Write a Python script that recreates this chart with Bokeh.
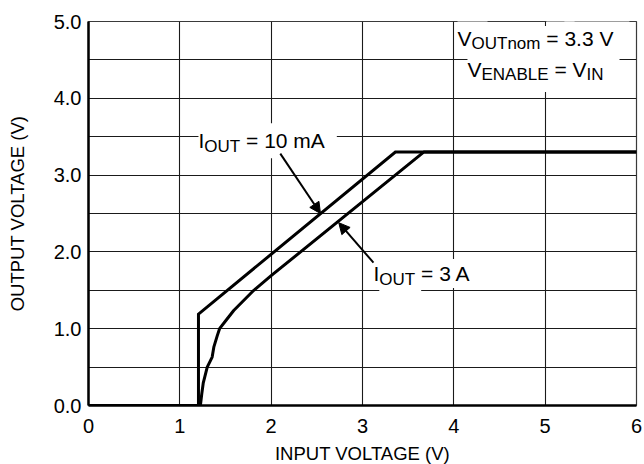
from bokeh.plotting import figure
from bokeh.models import Range1d, FixedTicker, Arrow, NormalHead, PrintfTickFormatter
from bokeh.core.properties import value
from bokeh.embed import file_html
from bokeh.resources import INLINE

# ---------------- data ----------------
input_v_10ma = [0.0, 1.204, 1.204, 3.36, 6.0]
output_v_10ma = [0.0, 0.0, 1.19, 3.3, 3.3]

input_v_3a = [0.0, 1.225, 1.24, 1.256, 1.30, 1.354, 1.372, 1.41, 1.435, 1.50, 1.59, 1.81, 2.0, 3.67, 6.0]
output_v_3a = [0.0, 0.0, 0.15, 0.29, 0.50, 0.63, 0.76, 0.91, 1.0, 1.10, 1.237, 1.5, 1.69, 3.3, 3.3]

x_ticks = [0, 1, 2, 3, 4, 5, 6]
y_ticks = [0, 1, 2, 3, 4, 5]
y_grid = [0, 0.5, 1, 1.5, 2, 2.5, 3, 3.5, 4, 4.5, 5]

x_label = "INPUT VOLTAGE (V)"
y_label = "OUTPUT VOLTAGE (V)"

FONT = "Liberation Sans"
FRAME_W, FRAME_H = 548, 384
X0, X1, Y0, Y1 = 0, 6, 0, 5
PX_PER_Y = FRAME_H / (Y1 - Y0)
TEXT_LIFT = 9  # px

# Arial / Liberation Sans advance widths (1/1000 em)
ADV = {' ': 278, '.': 278, '=': 584, 'A': 667, 'B': 667, 'E': 667, 'I': 278, 'L': 556,
       'N': 722, 'O': 778, 'T': 611, 'U': 722, 'V': 667, 'm': 833, 'n': 556, 'o': 556}
for d in "0123456789":
    ADV[d] = 556


def text_width(t, size):
    return sum(ADV.get(c, 600) for c in t) * size / 1000.0


p = figure(frame_width=FRAME_W, frame_height=FRAME_H,
           x_range=Range1d(X0, X1), y_range=Range1d(Y0, Y1),
           output_backend="svg", toolbar_location=None,
           min_border_left=88, min_border_right=8, min_border_top=21, min_border_bottom=4)
p.background_fill_color = "white"
p.border_fill_color = "white"
p.outline_line_color = "#3a3a3a"
p.outline_line_width = 1.2

# axes
p.xaxis.ticker = FixedTicker(ticks=x_ticks)
p.yaxis.ticker = FixedTicker(ticks=y_ticks)
p.yaxis.formatter = PrintfTickFormatter(format="%.1f")
p.xaxis.axis_label = x_label
p.yaxis.axis_label = y_label
for ax in (p.xaxis[0], p.yaxis[0]):
    ax.axis_line_color = "black"
    ax.axis_line_width = 2.5
    ax.major_tick_line_color = None
    ax.minor_tick_line_color = None
    ax.major_tick_out = 0
    ax.major_tick_in = 0
    ax.minor_tick_out = 0
    ax.minor_tick_in = 0
    ax.major_label_text_font = FONT
    ax.major_label_text_font_size = "20px"
    ax.major_label_text_color = "black"
    ax.axis_label_text_font = FONT
    ax.axis_label_text_font_size = "18.5px"
    ax.axis_label_text_font_style = "normal"
    ax.axis_label_text_color = "black"
p.xaxis.major_label_standoff = 13
p.xaxis.axis_label_standoff = 7
p.yaxis.major_label_standoff = 7
p.yaxis.axis_label_standoff = 23

# grid
p.xgrid.ticker = FixedTicker(ticks=x_ticks)
p.ygrid.ticker = FixedTicker(ticks=y_grid)
for g in (p.xgrid[0], p.ygrid[0]):
    g.grid_line_color = "#1a1a1a"
    g.grid_line_width = 1.1

# curves
p.line(input_v_10ma, output_v_10ma, line_width=3, line_color="black", line_join="miter")
p.line(input_v_3a, output_v_3a, line_width=3, line_color="black", line_join="round")


def draw_label(x, y, segs, align="left", pad=4):
    total = sum(text_width(t, s) for t, s, d in segs)
    off = 0.0 if align == "left" else -total / 2.0
    items = []
    for t, s, d in segs:
        lead = len(t) - len(t.lstrip(" "))
        shown = t.strip(" ")
        items.append((shown, s, d, off + text_width(" " * lead, s)))
        off += text_width(t, s)
    # white background pass
    for t, s, d, o in items:
        p.text(x=[x], y=[y + (TEXT_LIFT - d) / PX_PER_Y], text=[t], x_offset=o,
               text_font=value(FONT), text_font_size=f"{s}px",
               text_baseline="alphabetic", text_align="left", text_alpha=0,
               background_fill_color="white", padding=pad)
    # text pass
    for t, s, d, o in items:
        p.text(x=[x], y=[y + (TEXT_LIFT - d) / PX_PER_Y], text=[t], x_offset=o,
               text_font=value(FONT), text_font_size=f"{s}px",
               text_baseline="alphabetic", text_align="left", text_color="black")


# annotations
draw_label(1.204, 3.33, [("I", 21, 0), ("OUT", 17, 6), (" = ", 21, 0), ("10 mA", 21, 0)], pad=6)
draw_label(3.12, 1.60, [("I", 21, 0), ("OUT", 17, 6), (" = ", 21, 0), ("3 A", 21, 0)], pad=3)
draw_label(4.894, 4.66, [("V", 21, 0), ("OUTnom", 17, 5), (" = ", 21, 0), ("3.3 V", 21, 0)], align="center", pad=8)
draw_label(4.894, 4.258, [("V", 21, 0), ("ENABLE", 17, 5), (" = ", 21, 0), ("V", 21, 0), ("IN", 17, 5)], align="center", pad=8)

p.add_layout(Arrow(end=NormalHead(size=11, fill_color="black", line_color="black", line_width=1),
                   x_start=2.10, y_start=3.28, x_end=2.54, y_end=2.50,
                   line_width=2, line_color="black"))
p.add_layout(Arrow(end=NormalHead(size=11, fill_color="black", line_color="black", line_width=1),
                   x_start=3.12, y_start=1.86, x_end=2.74, y_end=2.38,
                   line_width=2, line_color="black"))

open("out.html", "w").write(file_html(p, INLINE))
